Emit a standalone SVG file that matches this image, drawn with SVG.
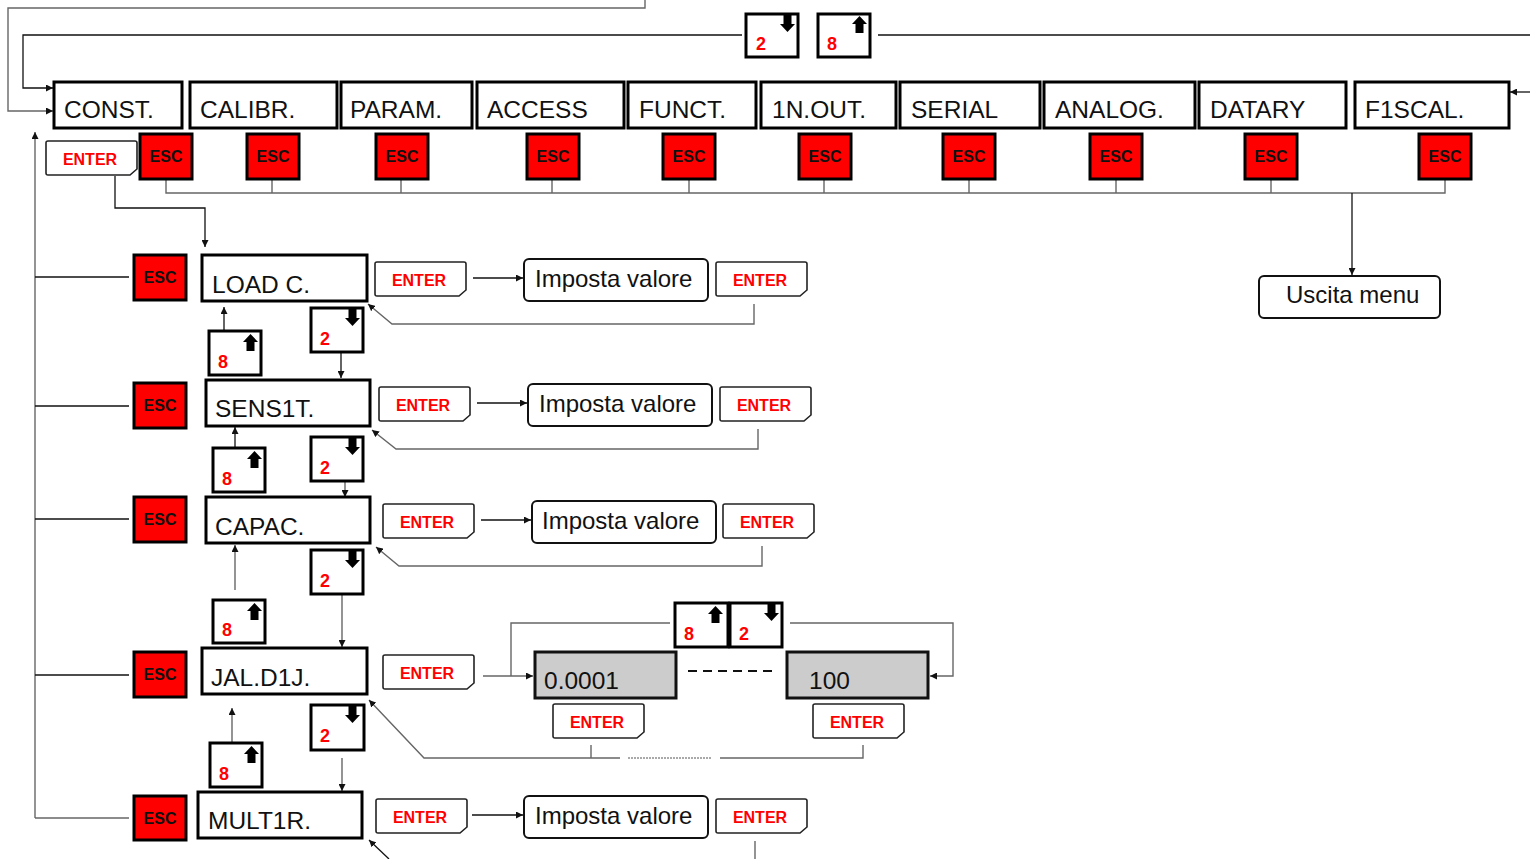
<svg xmlns="http://www.w3.org/2000/svg" xmlns:xlink="http://www.w3.org/1999/xlink" width="1530" height="859" viewBox="0 0 1530 859">
<style>
.menu{fill:#fff;stroke:#000;stroke-width:3}
.mt{font-family:"Liberation Sans",Arial,sans-serif;font-size:24.5px;fill:#111}
.esc{fill:#f00;stroke:#000;stroke-width:3}
.et{font-family:"Liberation Sans",Arial,sans-serif;font-size:16px;font-weight:bold;fill:#111;text-anchor:middle}
.ent{fill:#fff;stroke:#222;stroke-width:1.6}
.nt{font-family:"Liberation Sans",Arial,sans-serif;font-size:16px;font-weight:bold;fill:#f00;text-anchor:middle}
.key{fill:#fff;stroke:#000;stroke-width:3}
.kt{font-family:"Liberation Sans",Arial,sans-serif;font-size:18px;font-weight:bold;fill:#f00}
.iv{fill:#fff;stroke:#111;stroke-width:2}
.it{font-family:"Liberation Sans",Arial,sans-serif;font-size:24px;fill:#111}
.val{fill:#ccc;stroke:#111;stroke-width:3}
.ln{fill:none;stroke:#666;stroke-width:1.4}
.lk{fill:none;stroke:#111;stroke-width:1.3}
</style>
<defs>
<marker id="ah" viewBox="0 0 8 8" refX="8" refY="4" markerWidth="7" markerHeight="7" markerUnits="userSpaceOnUse" orient="auto"><path d="M0,0 L8,4 L0,8 z" fill="#111"/></marker>
<path id="entp" d="M2,0 H89 Q91,0 91,2 V28 L84,34 H2 Q0,34 0,32 V2 Q0,0 2,0 Z"/>
<path id="dn" d="M3.5,0 h8 v9 h3.5 l-7.5,8 l-7.5,-8 h3.5 z" fill="#000"/>
<path id="up" d="M7.5,0 l7.5,8 h-3.5 v9 h-8 v-9 h-3.5 z" fill="#000"/>
</defs>

<g id="connectors">
<path class="ln" d="M645,0 V8 H8 V111 H53" marker-end="url(#ah)"/>
<path class="lk" d="M742,35 H23 V88 H53" marker-end="url(#ah)"/>
<path class="lk" d="M878,35 H1530"/>
<path class="lk" d="M1530,92 H1510" marker-end="url(#ah)"/>
<path class="ln" d="M166,179 V193 H1445 V179 M272,179 V193 M401,179 V193 M552,179 V193 M689,179 V193 M824,179 V193 M969,179 V193 M1116,179 V193 M1271,179 V193"/>
<path class="lk" d="M1352,193 V275" marker-end="url(#ah)"/>
<path class="ln" d="M35,818 V132" marker-end="url(#ah)"/>
<path class="ln" d="M35,818 H129"/>
<path class="lk" d="M35,675 H129"/>
<path class="lk" d="M35,277 H129"/>
<path class="lk" d="M35,406 H129"/>
<path class="lk" d="M35,519 H129"/>
<path class="lk" d="M115,176 V208 H205 V247" marker-end="url(#ah)"/>
<path class="lk" d="M473,278 H523" marker-end="url(#ah)"/>
<path class="ln" d="M754,304 V324 H392 L368,304" marker-end="url(#ah)"/>
<path class="lk" d="M224,331 V307" marker-end="url(#ah)"/>
<path class="lk" d="M341,353 V378" marker-end="url(#ah)"/>
<path class="lk" d="M477,403 H527" marker-end="url(#ah)"/>
<path class="ln" d="M758,429 V449 H396 L372,430" marker-end="url(#ah)"/>
<path class="lk" d="M235,448 V427" marker-end="url(#ah)"/>
<path class="ln" d="M345,481 V497" marker-end="url(#ah)"/>
<path class="lk" d="M481,520 H531" marker-end="url(#ah)"/>
<path class="ln" d="M762,546 V566 H399 L376,547" marker-end="url(#ah)"/>
<path class="ln" d="M235,590 V545" marker-end="url(#ah)"/>
<path class="ln" d="M342,594 V647" marker-end="url(#ah)"/>
<path class="ln" d="M483,676 H533" marker-end="url(#ah)"/>
<path class="ln" d="M511,676 V623 H670"/>
<path class="ln" d="M790,623 H953 V676 H930" marker-end="url(#ah)"/>
<path d="M688,671 H775" fill="none" stroke="#111" stroke-width="2" stroke-dasharray="9 6"/>
<path class="ln" d="M591,745 V758 M620,758 H424 L369,700" marker-end="url(#ah)"/>
<path class="ln" d="M720,758 H863 V745"/>
<path d="M628,758 H711" fill="none" stroke="#555" stroke-width="1" stroke-dasharray="2 1"/>
<path class="ln" d="M232,743 V708" marker-end="url(#ah)"/>
<path class="ln" d="M342,758 V791" marker-end="url(#ah)"/>
<path class="lk" d="M472,815 H523" marker-end="url(#ah)"/>
<path class="ln" d="M755,841 V859"/>
<path class="lk" d="M389,859 L369,840" marker-end="url(#ah)"/>
</g>

<g id="key-top-2"><rect class="key" x="746" y="14" width="52" height="43"/><use href="#dn" x="780" y="15"/><text class="kt" x="756" y="50">2</text></g>
<g id="key-top-8"><rect class="key" x="818" y="14" width="52" height="43"/><use href="#up" x="852" y="16"/><text class="kt" x="827" y="50">8</text></g>

<g id="m-const"><rect class="menu" x="54" y="82" width="128" height="46"/><text class="mt" x="64" y="118">CONST.</text></g>
<g id="m-calibr"><rect class="menu" x="190" y="82" width="147" height="46"/><text class="mt" x="200" y="118">CALIBR.</text></g>
<g id="m-param"><rect class="menu" x="341" y="82" width="131" height="46"/><text class="mt" x="350" y="118">PARAM.</text></g>
<g id="m-access"><rect class="menu" x="477" y="82" width="147" height="46"/><text class="mt" x="487" y="118">ACCESS</text></g>
<g id="m-funct"><rect class="menu" x="628" y="82" width="128" height="46"/><text class="mt" x="639" y="118">FUNCT.</text></g>
<g id="m-1nout"><rect class="menu" x="761" y="82" width="135" height="46"/><text class="mt" x="772" y="118">1N.OUT.</text></g>
<g id="m-serial"><rect class="menu" x="900" y="82" width="140" height="46"/><text class="mt" x="911" y="118">SERIAL</text></g>
<g id="m-analog"><rect class="menu" x="1044" y="82" width="151" height="46"/><text class="mt" x="1055" y="118">ANALOG.</text></g>
<g id="m-datary"><rect class="menu" x="1199" y="82" width="147" height="46"/><text class="mt" x="1210" y="118">DATARY</text></g>
<g id="m-f1scal"><rect class="menu" x="1355" y="82" width="154" height="46"/><text class="mt" x="1365" y="118">F1SCAL.</text></g>

<g id="esc-top">
<rect class="esc" x="140" y="134" width="52" height="45"/><text class="et" x="166" y="162">ESC</text>
<rect class="esc" x="247" y="134" width="52" height="45"/><text class="et" x="273" y="162">ESC</text>
<rect class="esc" x="376" y="134" width="52" height="45"/><text class="et" x="402" y="162">ESC</text>
<rect class="esc" x="527" y="134" width="52" height="45"/><text class="et" x="553" y="162">ESC</text>
<rect class="esc" x="663" y="134" width="52" height="45"/><text class="et" x="689" y="162">ESC</text>
<rect class="esc" x="799" y="134" width="52" height="45"/><text class="et" x="825" y="162">ESC</text>
<rect class="esc" x="943" y="134" width="52" height="45"/><text class="et" x="969" y="162">ESC</text>
<rect class="esc" x="1090" y="134" width="52" height="45"/><text class="et" x="1116" y="162">ESC</text>
<rect class="esc" x="1245" y="134" width="52" height="45"/><text class="et" x="1271" y="162">ESC</text>
<rect class="esc" x="1419" y="134" width="52" height="45"/><text class="et" x="1445" y="162">ESC</text>
</g>

<g id="enter-top"><use href="#entp" class="ent" x="46" y="141"/><text class="nt" x="90" y="165">ENTER</text></g>

<g id="uscita"><rect class="iv" x="1259" y="276" width="181" height="42" rx="5"/><text class="it" x="1286" y="303">Uscita menu</text></g>

<g id="row-load">
<rect class="esc" x="134" y="255" width="52" height="45"/><text class="et" x="160" y="283">ESC</text>
<rect class="menu" x="202" y="255" width="165" height="46"/><text class="mt" x="212" y="293">LOAD C.</text>
<use href="#entp" class="ent" x="375" y="262"/><text class="nt" x="419" y="286">ENTER</text>
<rect class="iv" x="524" y="259" width="184" height="42" rx="5"/><text class="it" x="535" y="287">Imposta valore</text>
<use href="#entp" class="ent" x="716" y="262"/><text class="nt" x="760" y="286">ENTER</text>
<rect class="key" x="209" y="331" width="52" height="44"/><use href="#up" x="243" y="334"/><text class="kt" x="218" y="368">8</text>
<rect class="key" x="311" y="308" width="52" height="44"/><use href="#dn" x="345" y="309"/><text class="kt" x="320" y="345">2</text>
</g>

<g id="row-sens">
<rect class="esc" x="134" y="383" width="52" height="45"/><text class="et" x="160" y="411">ESC</text>
<rect class="menu" x="206" y="380" width="164" height="46"/><text class="mt" x="215" y="417">SENS1T.</text>
<use href="#entp" class="ent" x="379" y="387"/><text class="nt" x="423" y="411">ENTER</text>
<rect class="iv" x="528" y="384" width="184" height="42" rx="5"/><text class="it" x="539" y="412">Imposta valore</text>
<use href="#entp" class="ent" x="720" y="387"/><text class="nt" x="764" y="411">ENTER</text>
<rect class="key" x="213" y="448" width="52" height="44"/><use href="#up" x="247" y="451"/><text class="kt" x="222" y="485">8</text>
<rect class="key" x="311" y="437" width="52" height="44"/><use href="#dn" x="345" y="438"/><text class="kt" x="320" y="474">2</text>
</g>

<g id="row-capac">
<rect class="esc" x="134" y="497" width="52" height="45"/><text class="et" x="160" y="525">ESC</text>
<rect class="menu" x="206" y="497" width="164" height="46"/><text class="mt" x="215" y="535">CAPAC.</text>
<use href="#entp" class="ent" x="383" y="504"/><text class="nt" x="427" y="528">ENTER</text>
<rect class="iv" x="532" y="501" width="184" height="42" rx="5"/><text class="it" x="542" y="529">Imposta valore</text>
<use href="#entp" class="ent" x="723" y="504"/><text class="nt" x="767" y="528">ENTER</text>
<rect class="key" x="213" y="600" width="52" height="43"/><use href="#up" x="247" y="603"/><text class="kt" x="222" y="636">8</text>
<rect class="key" x="311" y="550" width="52" height="44"/><use href="#dn" x="345" y="551"/><text class="kt" x="320" y="587">2</text>
</g>

<g id="row-jal">
<rect class="esc" x="134" y="652" width="52" height="45"/><text class="et" x="160" y="680">ESC</text>
<rect class="menu" x="202" y="648" width="165" height="46"/><text class="mt" x="211" y="686">JAL.D1J.</text>
<use href="#entp" class="ent" x="383" y="655"/><text class="nt" x="427" y="679">ENTER</text>
<rect class="key" x="210" y="743" width="52" height="44"/><use href="#up" x="244" y="746"/><text class="kt" x="219" y="780">8</text>
<rect class="key" x="311" y="705" width="53" height="45"/><use href="#dn" x="345" y="706"/><text class="kt" x="320" y="742">2</text>
</g>

<g id="val-min"><rect class="val" x="535" y="652" width="141" height="46"/><text class="mt" x="544" y="689">0.0001</text>
<use href="#entp" class="ent" x="553" y="704"/><text class="nt" x="597" y="728">ENTER</text></g>
<g id="val-max"><rect class="val" x="787" y="652" width="141" height="46"/><text class="mt" x="809" y="689">100</text>
<use href="#entp" class="ent" x="813" y="704"/><text class="nt" x="857" y="728">ENTER</text></g>
<g id="key-val-8"><rect class="key" x="675" y="603" width="53" height="44"/><use href="#up" x="708" y="606"/><text class="kt" x="684" y="640">8</text></g>
<g id="key-val-2"><rect class="key" x="730" y="603" width="52" height="44"/><use href="#dn" x="764" y="604"/><text class="kt" x="739" y="640">2</text></g>

<g id="row-mult">
<rect class="esc" x="134" y="796" width="52" height="44"/><text class="et" x="160" y="824">ESC</text>
<rect class="menu" x="198" y="792" width="164" height="46"/><text class="mt" x="208" y="829">MULT1R.</text>
<use href="#entp" class="ent" x="376" y="799"/><text class="nt" x="420" y="823">ENTER</text>
<rect class="iv" x="524" y="796" width="184" height="42" rx="5"/><text class="it" x="535" y="824">Imposta valore</text>
<use href="#entp" class="ent" x="716" y="799"/><text class="nt" x="760" y="823">ENTER</text>
</g>
</svg>
